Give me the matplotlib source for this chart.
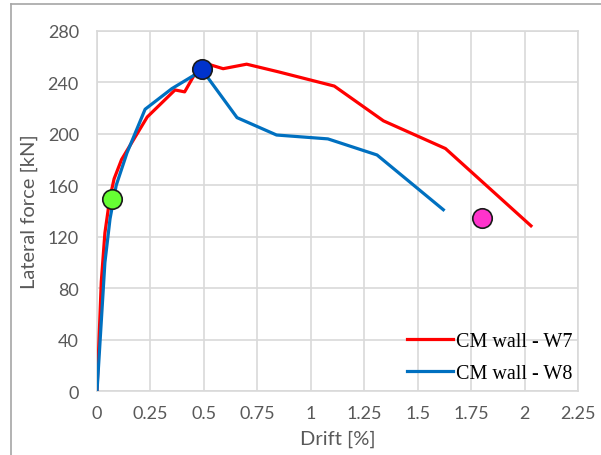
import matplotlib
matplotlib.use("Agg")
from matplotlib import pyplot as plt
from matplotlib.lines import Line2D

# W7 and W8 pushover envelopes (drift %, lateral force kN)
w7_drift = [0, 0.02, 0.037, 0.06, 0.08, 0.115, 0.235, 0.365, 0.41, 0.47, 0.5, 0.59, 0.70, 0.85, 1.11, 1.34, 1.63, 2.03]
w7_force = [0, 85, 123, 150, 165, 180, 213, 234, 232.5, 250, 255, 250.5, 254, 248, 237, 210, 188.5, 128.5]
w8_drift = [0, 0.037, 0.061, 0.09, 0.14, 0.225, 0.35, 0.45, 0.49, 0.655, 0.84, 1.08, 1.31, 1.62]
w8_force = [0, 100, 134, 160, 185, 219, 235, 245, 250, 212.5, 199, 196, 183.5, 141]

# highlighted points
pt_drift = [0.072, 0.49, 1.80]
pt_force = [149.5, 250.5, 134.5]
pt_colors = ["#66FF33", "#0033CC", "#FF33CC"]

x_ticks = [0, 0.25, 0.5, 0.75, 1, 1.25, 1.5, 1.75, 2, 2.25]
x_labels = ["0", "0.25", "0.5", "0.75", "1", "1.25", "1.5", "1.75", "2", "2.25"]
y_ticks = [0, 40, 80, 120, 160, 200, 240, 280]

grey_txt = "#595959"
grid_col = "#D9D9D9"

fig = plt.figure(figsize=(6.01, 4.56), dpi=100)
ax = fig.add_axes([97 / 601, 1 - 392.3 / 456, 481 / 601, 360.6 / 456])

ax.plot(w7_drift, w7_force, color="#FF0000", lw=2.3, solid_joinstyle="round", label="CM wall - W7", zorder=3)
ax.plot(w8_drift, w8_force, color="#0070C0", lw=2.3, solid_joinstyle="round", label="CM wall - W8", zorder=4)
for x, y, c in zip(pt_drift, pt_force, pt_colors):
    ax.plot([x], [y], "o", ms=14, mfc=c, mec="#1a1a1a", mew=1.2, zorder=5)

ax.set_xlim(0, 2.25)
ax.set_ylim(0, 280)
ax.set_xticks(x_ticks)
ax.set_xticklabels(x_labels)
ax.set_yticks(y_ticks)
ax.grid(True, color=grid_col, lw=1.2)
ax.set_axisbelow(True)
for s in ax.spines.values():
    s.set_color(grid_col)
    s.set_linewidth(1.2)
ax.tick_params(length=0, labelsize=13, labelcolor=grey_txt, labelfontfamily="Lato")
ax.tick_params(axis="y", pad=13)
ax.tick_params(axis="x", pad=10)

ax.set_xlabel("Drift [%]", fontsize=14.5, color=grey_txt, family="Lato", labelpad=6)
ax.set_ylabel("Lateral force [kN]", fontsize=14.5, color=grey_txt, family="Lato", labelpad=7)

leg = ax.legend(loc="lower right", bbox_to_anchor=(1.0, 0.009), frameon=False,
                prop={"family": "Liberation Serif", "size": 14.5},
                handlelength=2.3, handletextpad=0.15, labelspacing=0.62, borderpad=0, borderaxespad=0.25)
for t in leg.get_texts():
    t.set_color("black")

# thin frame lines at top and left of the image
fig.add_artist(Line2D([11 / 601, 11 / 601], [0, 1 - 5 / 456], color="#A6A6A6", lw=1.2, transform=fig.transFigure))
fig.add_artist(Line2D([11 / 601, 1], [1 - 5 / 456, 1 - 5 / 456], color="#A6A6A6", lw=1.2, transform=fig.transFigure))

fig.savefig("out.png", dpi=100)
